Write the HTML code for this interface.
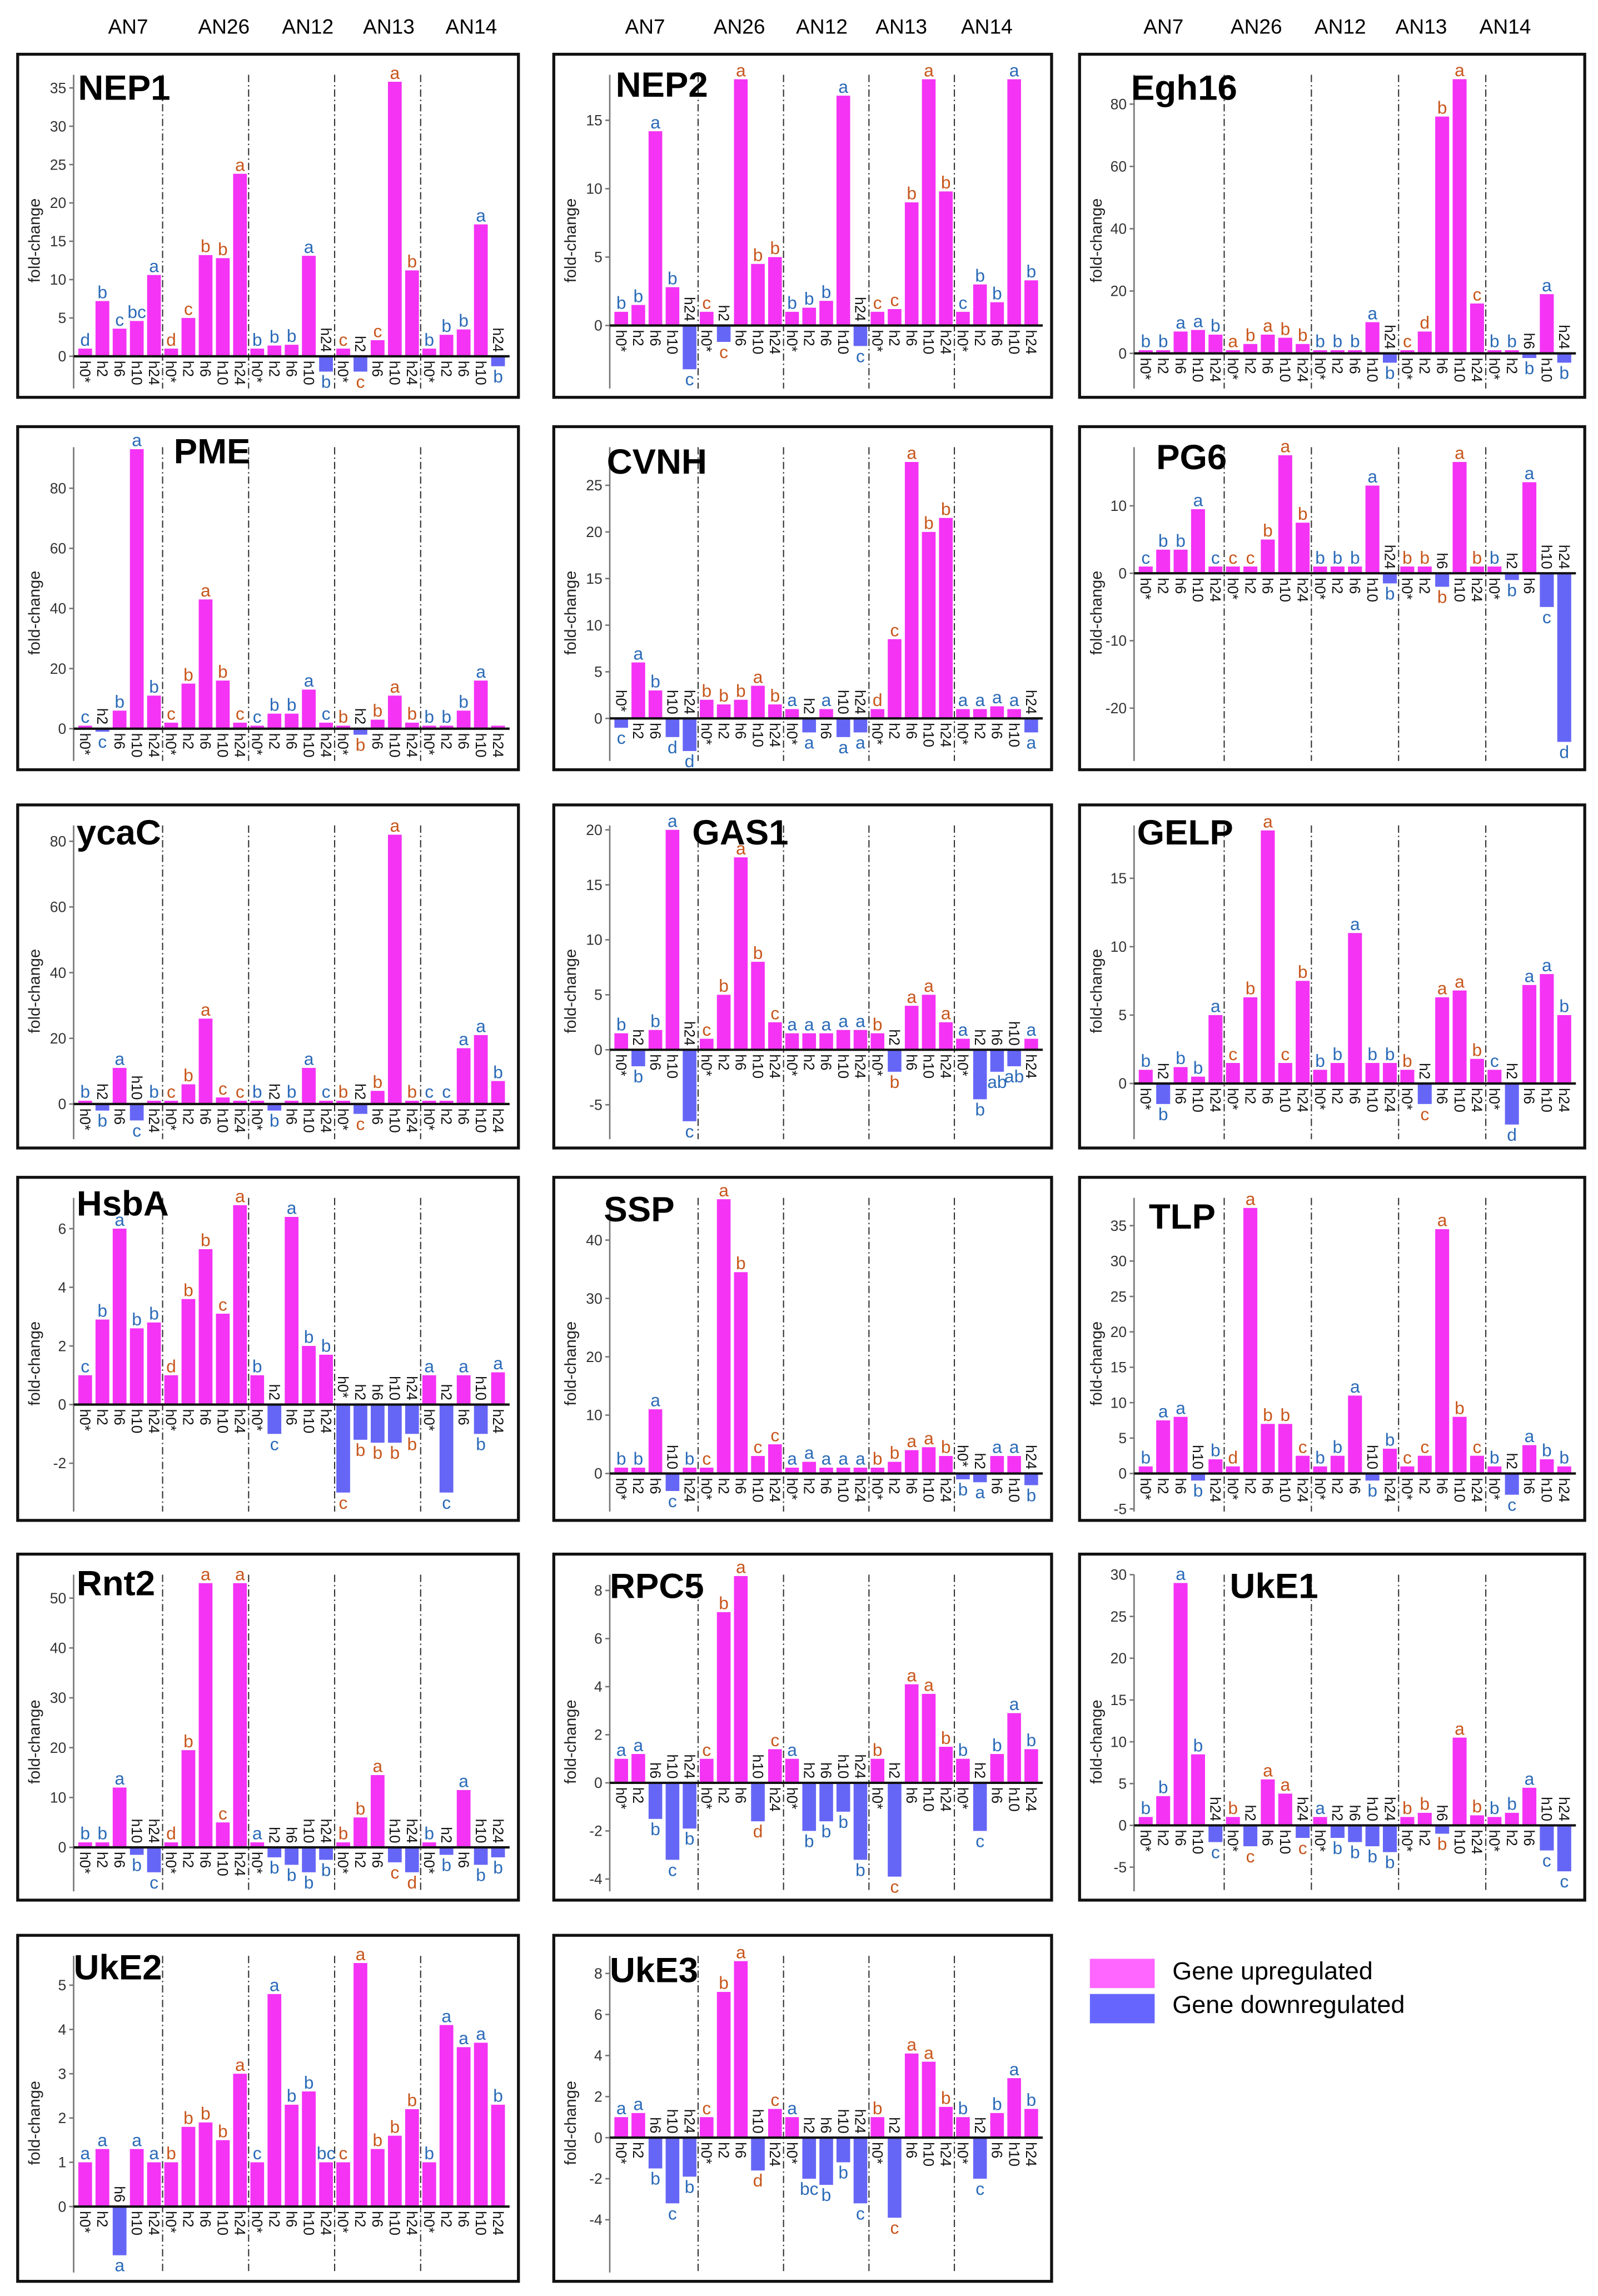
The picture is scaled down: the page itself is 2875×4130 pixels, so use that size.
<!DOCTYPE html>
<html><head><meta charset="utf-8">
<style>
html,body{margin:0;padding:0;background:#fff;}
svg{display:block;font-family:"Liberation Sans",sans-serif;}
</style></head>
<body>
<svg id="fig" width="2875" height="4130" viewBox="0 0 1085 1566" preserveAspectRatio="none" xmlns="http://www.w3.org/2000/svg">
<g>
<rect x="740" y="1336" width="44" height="20" fill="#ff66ff"/>
<text x="796" y="1350" font-size="17">Gene upregulated</text>
<rect x="740" y="1360" width="44" height="20" fill="#6666ff"/>
<text x="796" y="1373" font-size="17">Gene downregulated</text>
</g>
</svg>
<script>
const groups = ["AN7","AN26","AN12","AN13","AN14"];
const timepoints = ["h0*","h2","h6","h10","h24"];

const nep1Values = [1,7.2,3.6,4.6,10.6, 1,5,13.2,12.8,23.8, 1,1.4,1.5,13.1,-2, 1,-2,2.1,35.8,11.2, 1,2.8,3.5,17.2,-1.3];
const nep1Letters = ["d","b","c","bc","a","d","c","b","b","a","b","b","b","a","b","c","c","c","a","b","b","b","b","a","b"];
const nep1Ticks = [0,5,10,15,20,25,30,35];

const nep2Values = [1,1.5,14.2,2.8,-3.2, 1,-1.2,18,4.5,5, 1,1.3,1.8,16.8,-1.5, 1,1.2,9,18,9.8, 1,3,1.7,18,3.3];
const nep2Letters = ["b","b","a","b","c","c","c","a","b","b","b","b","b","a","c","c","c","b","a","b","c","b","b","a","b"];
const nep2Ticks = [0,5,10,15];

const egh16Values = [1,1,7,7.5,6, 1,3,6,5,3, 1,1,1,10,-3, 1,7,76,88,16, 1,1,-1.5,19,-3];
const egh16Letters = ["b","b","a","a","b","a","b","a","b","b","b","b","b","a","b","c","d","b","a","c","b","b","b","a","b"];
const egh16Ticks = [0,20,40,60,80];

const pmeValues = [1,-1,6,93,11, 2,15,43,16,2, 1,5,5,13,2, 1,-2,3,11,2, 1,1,6,16,1];
const pmeLetters = ["c","c","b","a","b","c","b","a","b","c","c","b","b","a","c","b","b","b","a","b","b","b","b","a",""];
const pmeTicks = [0,20,40,60,80];

const cvnhValues = [-1,6,3,-2,-3.5, 2,1.5,2,3.5,1.5, 1,-1.5,1,-2,-1.5, 1,8.5,27.5,20,21.5, 1,1,1.3,1,-1.5];
const cvnhLetters = ["c","a","b","d","d","b","b","b","a","b","a","a","a","a","a","d","c","a","b","b","a","a","a","a","a"];
const cvnhTicks = [0,5,10,15,20,25];

const pg6Values = [1,3.5,3.5,9.5,1, 1,1,5,17.5,7.5, 1,1,1,13,-1.5, 1,1,-2,16.5,1, 1,-1,13.5,-5,-25];
const pg6Letters = ["c","b","b","a","c","c","c","b","a","b","b","b","b","a","b","b","b","b","a","b","b","b","a","c","d"];
const pg6Ticks = [-20,-10,0,10];

const ycacValues = [1,-2,11,-5,1, 1,6,26,2,1, 1,-2,1,11,1, 1,-3,4,82,1, 1,1,17,21,7];
const ycacLetters = ["b","b","a","c","b","c","b","a","c","c","b","b","b","a","c","b","c","b","a","b","c","c","a","a","b"];
const ycacTicks = [0,20,40,60,80];

const gas1Values = [1.5,-1.5,1.8,20,-6.5, 1,5,17.5,8,2.5, 1.5,1.5,1.5,1.8,1.8, 1.5,-2,4,5,2.5, 1,-4.5,-2,-1.5,1];
const gas1Letters = ["b","b","b","a","c","c","b","a","b","c","a","a","a","a","a","b","b","a","a","a","a","b","ab","ab","a"];
const gas1Ticks = [-5,0,5,10,15,20];

const gelpValues = [1,-1.5,1.2,0.5,5, 1.5,6.3,18.5,1.5,7.5, 1,1.5,11,1.5,1.5, 1,-1.5,6.3,6.8,1.8, 1,-3,7.2,8,5];
const gelpLetters = ["b","b","b","b","a","c","b","a","c","b","b","b","a","b","b","b","c","a","a","b","c","d","a","a","b"];
const gelpTicks = [0,5,10,15];

const hsbaValues = [1,2.9,6,2.6,2.8, 1,3.6,5.3,3.1,6.8, 1,-1,6.4,2,1.7, -3,-1.2,-1.3,-1.3,-1, 1,-3,1,-1,1.1];
const hsbaLetters = ["c","b","a","b","b","d","b","b","c","a","b","c","a","b","b","c","b","b","b","b","a","c","a","b","a"];
const hsbaTicks = [-2,0,2,4,6];

const sspValues = [1,1,11,-3,1, 1,47,34.5,3,5, 1,2,1,1,1, 1,2,4,4.5,3, -1,-1.5,3,3,-2];
const sspLetters = ["b","b","a","c","b","c","a","b","c","c","a","a","a","a","a","b","b","a","a","b","b","a","a","a","b"];
const sspTicks = [0,10,20,30,40];

const tlpValues = [1,7.5,8,-1,2, 1,37.5,7,7,2.5, 1,2.5,11,-1,3.5, 1,2.5,34.5,8,2.5, 1,-3,4,2,1];
const tlpLetters = ["b","a","a","b","b","d","a","b","b","c","b","b","a","b","b","c","c","a","b","c","b","c","a","b","b"];
const tlpTicks = [-5,0,5,10,15,20,25,30,35];

const rnt2Values = [1,1,12,-1.5,-5, 1,19.5,53,5,53, 1,-2,-3.5,-5,-2.5, 1,6,14.5,-3,-5, 1,-1.5,11.5,-3.5,-2];
const rnt2Letters = ["b","b","a","b","c","d","b","a","c","a","a","b","b","b","b","b","b","a","c","d","b","b","a","b","b"];
const rnt2Ticks = [0,10,20,30,40,50];

const rpc5Values = [1,1.2,-1.5,-3.2,-1.9, 1,7.1,8.6,-1.6,1.4, 1,-2,-1.6,-1.2,-3.2, 1,-3.9,4.1,3.7,1.5, 1,-2,1.2,2.9,1.4];
const rpc5Letters = ["a","a","b","c","b","c","b","a","d","c","a","b","b","b","b","b","c","a","a","b","b","c","b","a","b"];
const rpc5Ticks = [-4,-2,0,2,4,6,8];

const uke1Values = [1,3.5,29,8.5,-2, 1,-2.5,5.5,3.8,-1.5, 1,-1.5,-2,-2.5,-3.2, 1,1.5,-1,10.5,1.2, 1,1.5,4.5,-3,-5.5];
const uke1Letters = ["b","b","a","b","c","b","c","a","a","c","a","b","b","b","b","b","b","b","a","b","b","b","a","c","c"];
const uke1Ticks = [-5,0,5,10,15,20,25,30];

const uke2Values = [1,1.3,-1.1,1.3,1, 1,1.8,1.9,1.5,3, 1,4.8,2.3,2.6,1, 1,5.5,1.3,1.6,2.2, 1,4.1,3.6,3.7,2.3];
const uke2Letters = ["a","a","a","a","a","b","b","b","b","a","c","a","b","b","bc","c","a","b","b","b","b","a","a","a","b"];
const uke2Ticks = [0,1,2,3,4,5];

const uke3Values = [1,1.2,-1.5,-3.2,-1.9, 1,7.1,8.6,-1.6,1.4, 1,-2,-2.3,-1.2,-3.2, 1,-3.9,4.1,3.7,1.5, 1,-2,1.2,2.9,1.4];
const uke3Letters = ["a","a","b","c","b","c","b","a","d","c","a","bc","b","b","c","b","c","a","a","b","b","c","b","a","b"];
const uke3Ticks = [-4,-2,0,2,4,6,8];

const cols = [{l:12,r:352,ax:50},{l:376,r:714,ax:414},{l:733,r:1076,ax:770}];
const headerX = [[87,152,209,264,320],[438,502,558,612,670],[790,853,910,965,1022]];
const rows = [{t:37,b:271},{t:291,b:525},{t:549,b:783},{t:803,b:1037},{t:1060,b:1296},{t:1320,b:1556}];
const panels = [
 {id:"nep1",title:"NEP1",c:0,r:0,tx:53,ty:68,zero:243,ppu:5.23,vals:nep1Values,lets:nep1Letters,ticks:nep1Ticks},
 {id:"nep2",title:"NEP2",c:1,r:0,tx:418,ty:66,zero:222,ppu:9.33,vals:nep2Values,lets:nep2Letters,ticks:nep2Ticks},
 {id:"egh16",title:"Egh16",c:2,r:0,tx:768,ty:68,zero:241,ppu:2.125,vals:egh16Values,lets:egh16Letters,ticks:egh16Ticks},
 {id:"pme",title:"PME",c:0,r:1,tx:118,ty:316,zero:497,ppu:2.05,vals:pmeValues,lets:pmeLetters,ticks:pmeTicks},
 {id:"cvnh",title:"CVNH",c:1,r:1,tx:412,ty:323,zero:490,ppu:6.36,vals:cvnhValues,lets:cvnhLetters,ticks:cvnhTicks},
 {id:"pg6",title:"PG6",c:2,r:1,tx:785,ty:320,zero:391,ppu:4.6,vals:pg6Values,lets:pg6Letters,ticks:pg6Ticks},
 {id:"ycac",title:"ycaC",c:0,r:2,tx:52,ty:576,zero:753,ppu:2.24,vals:ycacValues,lets:ycacLetters,ticks:ycacTicks},
 {id:"gas1",title:"GAS1",c:1,r:2,tx:470,ty:576,zero:716,ppu:7.5,vals:gas1Values,lets:gas1Letters,ticks:gas1Ticks},
 {id:"gelp",title:"GELP",c:2,r:2,tx:772,ty:576,zero:739,ppu:9.33,vals:gelpValues,lets:gelpLetters,ticks:gelpTicks},
 {id:"hsba",title:"HsbA",c:0,r:3,tx:52,ty:829,zero:958,ppu:20,vals:hsbaValues,lets:hsbaLetters,ticks:hsbaTicks},
 {id:"ssp",title:"SSP",c:1,r:3,tx:410,ty:833,zero:1005,ppu:3.98,vals:sspValues,lets:sspLetters,ticks:sspTicks},
 {id:"tlp",title:"TLP",c:2,r:3,tx:780,ty:838,zero:1005,ppu:4.83,vals:tlpValues,lets:tlpLetters,ticks:tlpTicks},
 {id:"rnt2",title:"Rnt2",c:0,r:4,tx:52,ty:1088,zero:1260,ppu:3.4,vals:rnt2Values,lets:rnt2Letters,ticks:rnt2Ticks},
 {id:"rpc5",title:"RPC5",c:1,r:4,tx:414,ty:1090,zero:1216,ppu:16.4,vals:rpc5Values,lets:rpc5Letters,ticks:rpc5Ticks},
 {id:"uke1",title:"UkE1",c:2,r:4,tx:835,ty:1090,zero:1245,ppu:5.7,vals:uke1Values,lets:uke1Letters,ticks:uke1Ticks},
 {id:"uke2",title:"UkE2",c:0,r:5,tx:50,ty:1350,zero:1505,ppu:30.2,vals:uke2Values,lets:uke2Letters,ticks:uke2Ticks},
 {id:"uke3",title:"UkE3",c:1,r:5,tx:414,ty:1352,zero:1458,ppu:14,vals:uke3Values,lets:uke3Letters,ticks:uke3Ticks}
];
const NS="http://www.w3.org/2000/svg";
const svg=document.getElementById('fig');
function mk(tag,attrs,parent){const e=document.createElementNS(NS,tag);for(const k in attrs)e.setAttribute(k,attrs[k]);(parent||svg).appendChild(e);return e;}

cols.forEach(function(col,ci){
  groups.forEach(function(g,gi){
    const t=mk('text',{x:headerX[ci][gi],y:23,'font-size':14,'text-anchor':'middle'});
    
    
    t.textContent=g;
  });
});

panels.forEach(function(p){
  const col=cols[p.c], row=rows[p.r];
  const g=mk('g',{});
  
  
  const frame=mk('rect',{x:col.l,y:row.t,width:col.r-col.l,height:row.b-row.t,fill:'none',stroke:'#111','stroke-width':2},g);
  
  
  const yScale=function(v){return p.zero-v*p.ppu;};
  const x0=col.ax+2, x1=col.r-8, gw=(x1-x0)/5, bw=gw/5;
  const ax=mk('line',{x1:col.ax,x2:col.ax,y1:row.t+14,y2:row.b-6,stroke:'#777','stroke-width':1},g);
  
  
  p.ticks.forEach(function(t){
    const y=yScale(t);
    const tl=mk('line',{x1:col.ax-3,x2:col.ax,y1:y,y2:y,stroke:'#777','stroke-width':1},g);
    
    
    const tt=mk('text',{x:col.ax-5,y:y+3.5,'font-size':10,'text-anchor':'end',fill:'#333'},g);
    
    
    tt.textContent=t;
  });
  const yl=mk('text',{x:0,y:0,'font-size':11,'text-anchor':'middle',fill:'#222',transform:'translate('+(col.l+15)+','+((row.t+row.b)/2+10)+') rotate(-90)'},g);
  
  
  yl.textContent='fold-change';
  for(let i=1;i<5;i++){
    const sx=x0+gw*i;
    const sl=mk('line',{x1:sx,x2:sx,y1:row.t+14,y2:row.b-6,stroke:'#333','stroke-width':0.8,'stroke-dasharray':'5,2,1,2'},g);
    
    
  }
  p.vals.forEach(function(v,i){
    const gi=Math.floor(i/5), ti=i%5;
    const cx=x0+gw*gi+bw*(ti+0.5);
    const y=yScale(v), z=p.zero;
    const b=mk('rect',{x:cx-bw*0.4,y:Math.min(y,z),width:bw*0.8,height:Math.abs(z-y),fill:v>=0?'#f433f4':'#6666f6'},g);
    
    
    const lc=(p.lets[i]==='')?null:p.lets[i];
    const color=(gi===1||gi===3)?'#c8561c':'#2a6ab8';
    if(lc){
      const lt=mk('text',{x:cx,y:v>=0?y-2:y+11,'font-size':12,'text-anchor':'middle',fill:color},g);
      
      
      lt.textContent=lc;
    }
    const xl=mk('text',{x:0,y:0,'font-size':10,fill:'#111',transform:v>=0?('translate('+(cx-3.5)+','+(z+3)+') rotate(90)'):('translate('+(cx-3.5)+','+(z-3-timepoints[ti].length*5.5)+') rotate(90)')},g);
    
    
    xl.textContent=timepoints[ti];
  });
  const zl=mk('line',{x1:col.ax,x2:x1+2,y1:p.zero,y2:p.zero,stroke:'#111','stroke-width':1.6},g);
  
  
  const tt=mk('text',{x:p.tx,y:p.ty,'font-size':24,'font-weight':'bold',fill:'#000'},g);
  
  
  tt.textContent=p.title;
});
</script>
</body></html>
